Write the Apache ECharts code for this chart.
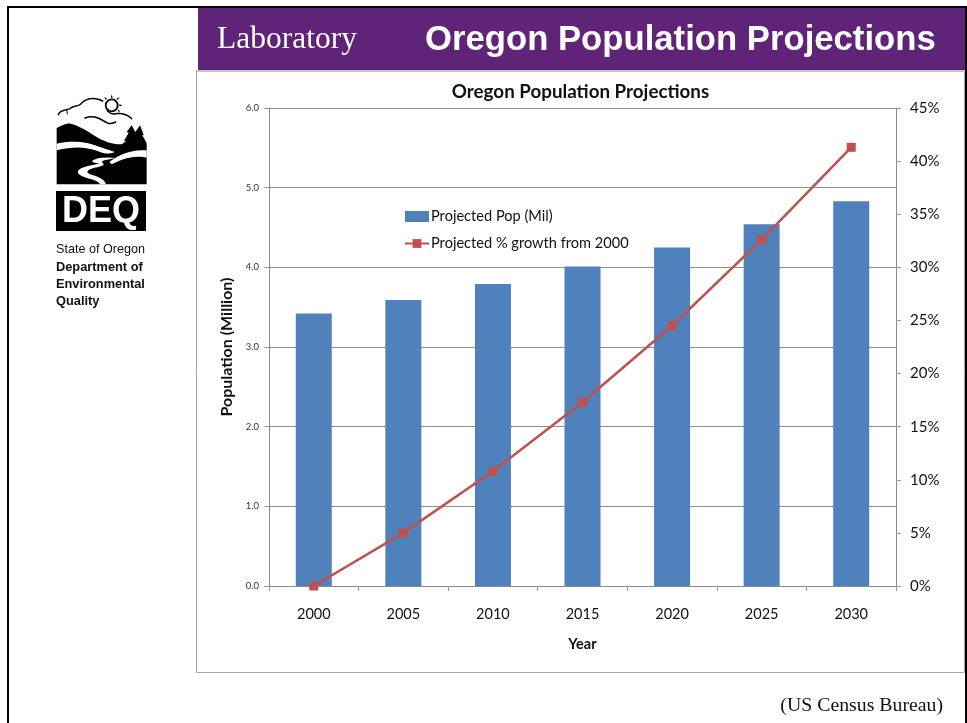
<!DOCTYPE html>
<html><head><meta charset="utf-8">
<style>html,body{margin:0;padding:0;background:#fff}#c{width:967px;height:723px}</style>
<script src="https://cdn.jsdelivr.net/npm/echarts@6/dist/echarts.min.js"></script>
</head><body><div id="c"></div>
<script>
const years = ['2000','2005','2010','2015','2020','2025','2030'];
const projectedPop = [3.42, 3.59, 3.79, 4.01, 4.25, 4.54, 4.83];
const projectedGrowth = [0, 5.0, 10.8, 17.3, 24.5, 32.6, 41.3];
const chartTitle = 'Oregon Population Projections';
const sideText = ['State of Oregon','Department of','Environmental','Quality'];

const FONT = 'Lato, "Open Sans", sans-serif';
// flatten a simple M/L/C/Z outline for the decorative logo (drawn on a 3x grid from 50,92)
function flatten(d){
  const tk = d.trim().split(/\s+|(?=[MLCZ])|(?<=[MLCZ])/).filter(Boolean);
  const polys=[]; let cur=null, i=0, cmd='';
  while(i<tk.length){
    if(/[MLCZ]/.test(tk[i])){cmd=tk[i++]; if(cmd==='Z'){polys.push(cur);cur=null;} continue;}
    if(cmd==='M'){if(cur)polys.push(cur);cur=[[+tk[i],+tk[i+1]]];i+=2;cmd='L';}
    else if(cmd==='L'){cur.push([+tk[i],+tk[i+1]]);i+=2;}
    else if(cmd==='C'){
      const p0=cur[cur.length-1],a=[+tk[i],+tk[i+1]],b=[+tk[i+2],+tk[i+3]],c=[+tk[i+4],+tk[i+5]];i+=6;
      for(let s=1;s<=10;s++){const t=s/10,u=1-t;
        cur.push([0,1].map(k=>u*u*u*p0[k]+3*u*u*t*a[k]+3*u*t*t*b[k]+t*t*t*c[k]));}
    }
  }
  if(cur)polys.push(cur);
  return polys.map(p=>p.map(q=>[50+q[0]/3,92+q[1]/3]));
}
const shape=(d,fill)=>flatten(d).map(pts=>({type:'polygon',z:1,silent:true,shape:{points:pts},style:{fill}}));
const stroke=(d,w)=>flatten(d).map(pts=>({type:'polyline',z:1,silent:true,shape:{points:pts},style:{fill:'none',stroke:'#000',lineWidth:w,lineCap:'round',lineJoin:'round'}}));
const txt = (x,y,text,font,fill,extra) => ({type:'text', x, y, z:3, silent:true,
  style:Object.assign({text, font, fill, textVerticalAlign:'middle'}, extra||{})});

const logo = [].concat(
  shape('M20 108 C35 100 50 93 62 95 C90 102 115 120 140 135 C165 150 190 158 215 157 L228 148 L222 146 L236 122 L230 120 L245 100 L256 120 L270 100 L281 128 L277 130 L288 150 L290 155 L290 277 L20 277 Z','#000'),
  shape('M20 155 C50 147 90 147 120 155 C145 163 170 172 195 180 C180 186 165 186 150 180 C120 168 80 160 20 175 Z','#fff'),
  shape('M178 210 C200 192 240 172 290 175 L290 197 C260 190 225 196 185 217 Z','#fff'),
  shape('M195 198 C175 196 150 195 130 204 C122 208 130 214 148 214 C130 220 95 222 84 236 C80 248 100 256 125 262 C140 266 148 272 150 277 L168 277 C165 265 150 255 125 248 C108 243 108 236 125 230 C145 224 165 222 160 215 C155 208 150 208 168 204 C178 202 188 200 195 198 Z','#fff'),
  stroke('M25 68 C30 55 45 55 60 50 C70 40 85 45 95 33 C110 18 135 15 158 27',1.5),
  stroke('M50 52 L52 66',1),
  stroke('M172 56 C178 62 184 66 192 66 C208 62 230 65 245 80',1.5),
  stroke('M105 78 C130 68 150 80 170 92 C180 97 190 93 197 90',1.6),
  [{type:'circle', z:1, silent:true, shape:{cx:111.7,cy:105.3,r:6}, style:{fill:'#fff',stroke:'#000',lineWidth:1.8}}],
  shape('M185 8 L188 17 L182 17 Z M209 15 L203 24 L199 20 Z M218 40 L208 43 L208 37 Z M211 62 L203 56 L206 52 Z M163 14 L171 20 L167 24 Z','#000'),
  [{type:'rect', z:1, silent:true, shape:{x:56,y:191,width:90,height:40}, style:{fill:'#000'}},
   txt(101,212,'DEQ','bold 36px "Liberation Sans", Arial, sans-serif','#fff',{textAlign:'center'})]
);

const option = {
  animation:false,
  backgroundColor:'#fff',
  legend:{left:399, top:204, orient:'vertical', itemGap:12, itemWidth:24, itemHeight:11,
    textStyle:{fontFamily:FONT,fontSize:14.6,color:'#111',padding:[0,0,0,-3]},
    data:[{name:'Projected Pop (Mil)',icon:'rect'},{name:'Projected % growth from 2000'}]},
  grid:{left:269, right:71, top:108, bottom:137, containLabel:false},
  xAxis:{type:'category', data:years, boundaryGap:true,
    name:'Year', nameLocation:'middle', nameGap:51,
    nameTextStyle:{fontFamily:FONT,fontSize:14.5,fontWeight:'bold',color:'#111'},
    axisLine:{lineStyle:{color:'#8a8a8a',width:1}},
    axisTick:{show:true,alignWithLabel:false,length:5,lineStyle:{color:'#9a9a9a'}},
    axisLabel:{fontFamily:FONT,fontSize:14.5,color:'#111',margin:21}},
  yAxis:[
    {type:'value', min:0, max:6, interval:1,
     name:'Population (Million)', nameLocation:'middle', nameGap:34, nameRotate:90,
     nameTextStyle:{fontFamily:FONT,fontSize:16,fontWeight:'bold',color:'#111'},
     axisLine:{show:true,lineStyle:{color:'#8a8a8a'}},
     axisTick:{show:true,length:5,lineStyle:{color:'#9a9a9a'}},
     splitLine:{show:true,lineStyle:{color:'#8f8f8f',width:1}},
     axisLabel:{fontFamily:FONT,fontSize:9.5,color:'#333',margin:10,formatter:v=>v.toFixed(1)}},
    {type:'value', min:0, max:45, interval:5, position:'right',
     axisLine:{show:true,lineStyle:{color:'#8a8a8a'}},
     axisTick:{show:true,length:5,lineStyle:{color:'#9a9a9a'}},
     splitLine:{show:false},
     axisLabel:{fontFamily:FONT,fontSize:15,color:'#111',margin:14,formatter:'{value}%'}}
  ],
  series:[
    {name:'Projected Pop (Mil)', type:'bar', data:projectedPop, barWidth:36, yAxisIndex:0,
     itemStyle:{color:'#4F81BD'}, z:2},
    {name:'Projected % growth from 2000', type:'line', data:projectedGrowth, yAxisIndex:1,
     symbol:'rect', symbolSize:9, showSymbol:true,
     lineStyle:{color:'#C0504D',width:2.5}, itemStyle:{color:'#C0504D'}, z:3}
  ],
  graphic:{elements:[
    {type:'rect', z:0, silent:true, shape:{x:198,y:8,width:767,height:62}, style:{fill:'#5F2477'}},
    {type:'rect', z:0, silent:true, shape:{x:196.5,y:70.5,width:768,height:602}, style:{fill:'none',stroke:'#a6a6a6',lineWidth:1}},
    {type:'rect', z:0, silent:true, shape:{x:197,y:70,width:768,height:2}, style:{fill:'#c4c4c4'}},
    {type:'rect', z:4, silent:true, shape:{x:7,y:6,width:960,height:2}, style:{fill:'#000'}},
    {type:'rect', z:4, silent:true, shape:{x:7,y:6,width:2,height:717}, style:{fill:'#000'}},
    {type:'rect', z:4, silent:true, shape:{x:965,y:6,width:2,height:717}, style:{fill:'#000'}},
    txt(217,40,'Laboratory','31.5px "Liberation Serif", "Times New Roman", serif','#fff'),
    txt(425,40,chartTitle,'bold 34.7px "Liberation Sans", Arial, sans-serif','#fff'),
    txt(580.5,92,chartTitle,'bold 18.8px '+FONT,'#111',{textAlign:'center'}),
    txt(943,706,'(US Census Bureau)','19.8px "Liberation Serif", "Times New Roman", serif','#111',{textAlign:'right'}),
    txt(56,250,sideText[0],'12.6px "Liberation Sans", Arial, sans-serif','#111'),
    txt(56,267,sideText[1],'bold 12.8px "Liberation Sans", Arial, sans-serif','#111'),
    txt(56,284,sideText[2],'bold 12.8px "Liberation Sans", Arial, sans-serif','#111'),
    txt(56,301,sideText[3],'bold 12.8px "Liberation Sans", Arial, sans-serif','#111')
  ].concat(logo)}
};
const chart = echarts.init(document.getElementById('c'), null, {renderer:'canvas'});
chart.setOption(option);
</script></body></html>
